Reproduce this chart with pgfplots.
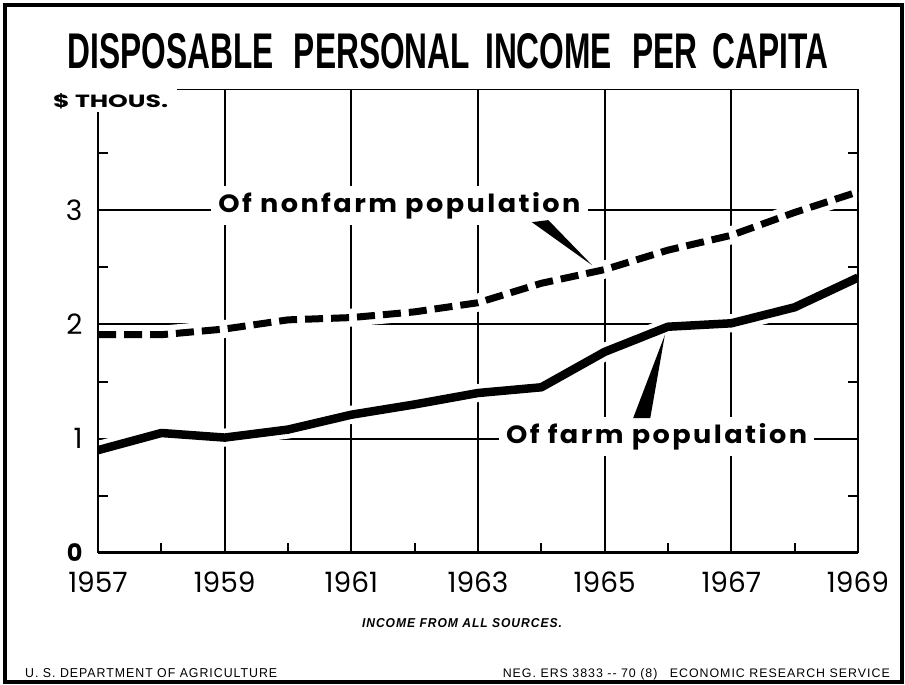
\documentclass[border=0pt]{standalone}
\usepackage{pgfplots}
\pgfplotsset{compat=1.18}
\usepackage{pgfplotstable}
\usepackage{graphicx}
\usepackage{fontspec}
\setmainfont{Poppins}
\newfontfamily\titlefont{Liberation Sans}
\newfontfamily\labfont[LetterSpace=9]{Poppins}
\newfontfamily\smallfont[LetterSpace=8]{Liberation Sans}

\pgfplotstableread{
year val
1957 1.91
1958 1.91
1959 1.96
1960 2.04
1961 2.06
1962 2.11
1963 2.19
1964 2.36
1965 2.48
1966 2.65
1967 2.78
1968 2.98
1969 3.16
}\nonfarm

\pgfplotstableread{
year val
1957 0.90
1958 1.05
1959 1.01
1960 1.08
1961 1.21
1962 1.30
1963 1.40
1964 1.45
1965 1.76
1966 1.98
1967 2.01
1968 2.15
1969 2.41
}\farm

\begin{document}
\begin{tikzpicture}
\path[use as bounding box] (0,0) rectangle (905pt,-685pt);
\fill[white] (0,0) rectangle (905pt,-685pt);
\draw[line width=4pt] (5pt,-5pt) rectangle (902pt,-682pt);

\node[anchor=base, inner sep=0pt] at (448pt,-68pt)
  {\resizebox{760pt}{35pt}{\titlefont\bfseries DISPOSABLE\hspace{0.35em} PERSONAL\hspace{0.2em} INCOME\hspace{0.35em} PER\hspace{0.2em} CAPITA}};

\begin{axis}[
  at={(98pt,-553pt)}, anchor=south west, scale only axis,
  width=760pt, height=464pt,
  xmin=1957, xmax=1969, ymin=0, ymax=4.06,
  xtick={1957,1959,...,1969},
  xticklabels={1957,1959,1961,1963,1965,1967,1969},
  minor xtick={1958,1960,...,1968},
  ytick={0,1,2,3},
  yticklabels={\raisebox{-2pt}{\textbf{\fontsize{24}{24}\selectfont 0}},1,2,3},
  minor ytick={0.5,1.5,2.5,3.5},
  xmajorgrids, ymajorgrids,
  major grid style={black, line width=2pt},
  major tick length=0pt,
  minor tick length=10pt,
  tick align=inside,
  xtick pos=left, ytick pos=both,
  yticklabel pos=left,
  minor tick style={black, line width=2pt},
  axis line style={draw=none},
  tick label style={font=\fontsize{28}{28}\selectfont},
  /pgf/number format/assume math mode=true,
  xticklabel style={yshift=-15pt},
  yticklabel style={xshift=-12pt},
  clip=true,
]
% halos
\addplot[white, line width=18pt, line join=round] table[x=year,y=val] {\nonfarm};
\addplot[white, line width=18pt, line join=round] table[x=year,y=val] {\farm};
% series
\addplot[black, line width=7pt, dash pattern=on 18pt off 8pt] table[x=year,y=val] {\nonfarm};
\addplot[black, line width=8.5pt, line join=round] table[x=year,y=val] {\farm};
% frame
\draw[line width=2pt] (rel axis cs:0,0) -- (rel axis cs:0,1) -- (rel axis cs:1,1) -- (rel axis cs:1,0);
\draw[line width=4.5pt] (rel axis cs:0,0) -- (rel axis cs:1,0);
% labels
\node[fill=white, inner xsep=7pt, inner ysep=6pt, anchor=base] at (axis cs:1961.76,2.98)
  {\resizebox{362pt}{20pt}{\labfont\bfseries Of nonfarm population}};
\node[fill=white, inner xsep=7pt, inner ysep=6pt, anchor=base] at (axis cs:1965.82,0.962)
  {\resizebox{301pt}{20pt}{\labfont\bfseries Of farm population}};
% pointers
\fill[black] (axis cs:1963.85,2.895) -- (axis cs:1964.11,2.913) -- (axis cs:1964.80,2.519) -- cycle;
\fill[black] (axis cs:1965.45,1.181) -- (axis cs:1965.72,1.181) -- (axis cs:1965.95,1.907) -- cycle;
\end{axis}

\fill[white] (45pt,-83pt) rectangle (177pt,-112pt);
\node[anchor=base west, inner sep=0pt] at (53pt,-107pt)
  {\resizebox{115pt}{14pt}{\bfseries \$ THOUS.}};

\node[anchor=base, inner sep=0pt] at (462pt,-627pt)
  {\resizebox{200pt}{9pt}{\smallfont\bfseries\itshape INCOME FROM ALL SOURCES.}};
\node[anchor=base west, inner sep=0pt] at (25pt,-677pt)
  {\resizebox{252pt}{9pt}{\smallfont U. S. DEPARTMENT OF AGRICULTURE}};
\node[anchor=base east, inner sep=0pt] at (890pt,-677pt)
  {\resizebox{387pt}{9pt}{\smallfont NEG. ERS 3833 -- 70 (8)\quad ECONOMIC RESEARCH SERVICE}};
\end{tikzpicture}
\end{document}
